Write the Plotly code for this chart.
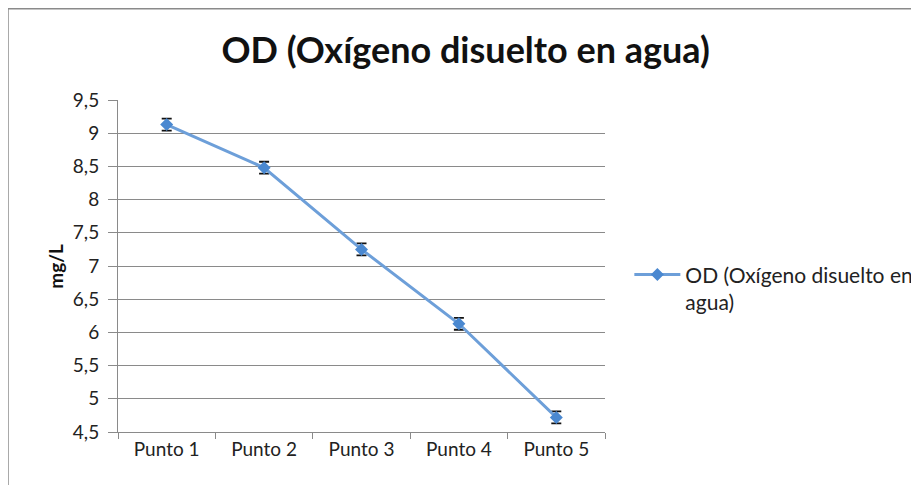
import plotly.graph_objects as go

categories = ["Punto 1", "Punto 2", "Punto 3", "Punto 4", "Punto 5"]
od_values = [9.13, 8.48, 7.25, 6.13, 4.72]
od_errors = [0.09, 0.09, 0.09, 0.09, 0.09]
y_ticks = [4.5, 5, 5.5, 6, 6.5, 7, 7.5, 8, 8.5, 9, 9.5]
y_tick_labels = ["4,5", "5", "5,5", "6", "6,5", "7", "7,5", "8", "8,5", "9", "9,5"]

FONT = "Lato, 'Open Sans', sans-serif"
GRID = "#8a8a8a"

fig = go.Figure()
fig.add_trace(go.Scatter(
    x=categories, y=od_values,
    mode="lines+markers",
    name="OD (Oxígeno disuelto en<br>agua)",
    line=dict(color="#6d9fd9", width=3),
    marker=dict(symbol="diamond", size=10, color="#4a88d0"),
    error_y=dict(type="data", array=od_errors, visible=True,
                 color="#111111", thickness=1.8, width=5),
))

fig.update_layout(
    width=919, height=485,
    paper_bgcolor="white", plot_bgcolor="white",
    margin=dict(l=110, r=322, t=92, b=61, autoexpand=False),
    font=dict(family=FONT, size=19, color="#222222"),
    title=dict(text="<b>OD (Oxígeno disuelto en agua)</b>",
               x=0.498, xref="container", xanchor="center",
               y=1 - 42 / 485, yref="container", yanchor="middle",
               font=dict(family=FONT, size=36, color="#111111")),
    showlegend=True,
    legend=dict(x=1.05, xanchor="left", y=0.535, yanchor="top",
                itemwidth=46, valign="top",
                font=dict(family=FONT, size=21, color="#222222"),
                bgcolor="rgba(0,0,0,0)"),
    xaxis=dict(type="category", range=[-0.5, 4.5],
               showline=True, linecolor=GRID, linewidth=1,
               ticks="outside", tickson="boundaries", ticklen=6,
               tickcolor=GRID, showgrid=False, zeroline=False,
               tickfont=dict(size=19, color="#222222")),
    yaxis=dict(range=[4.5, 9.5], tickvals=y_ticks, ticktext=y_tick_labels,
               showline=True, linecolor=GRID, linewidth=1,
               ticks="outside", ticklen=9, tickcolor=GRID,
               ticklabelstandoff=5,
               showgrid=True, gridcolor=GRID, gridwidth=1, zeroline=False,
               tickfont=dict(size=19, color="#222222")),
    annotations=[dict(text="<b>mg/L</b>", textangle=-90,
                      x=-0.13, xref="paper", xanchor="center",
                      y=0.5, yref="paper", yanchor="middle",
                      showarrow=False,
                      font=dict(family=FONT, size=19, color="#111111"))],
    shapes=[
        dict(type="line", xref="paper", yref="paper",
             x0=-0.2259, x1=-0.2259, y0=-0.3, y1=1.28,
             line=dict(color="#8a8a8a", width=1.5)),
        dict(type="line", xref="paper", yref="paper",
             x0=-0.2259, x1=1.9, y0=1.275, y1=1.275,
             line=dict(color="#8a8a8a", width=1.5)),
    ],
)

fig.write_html("out.html")
